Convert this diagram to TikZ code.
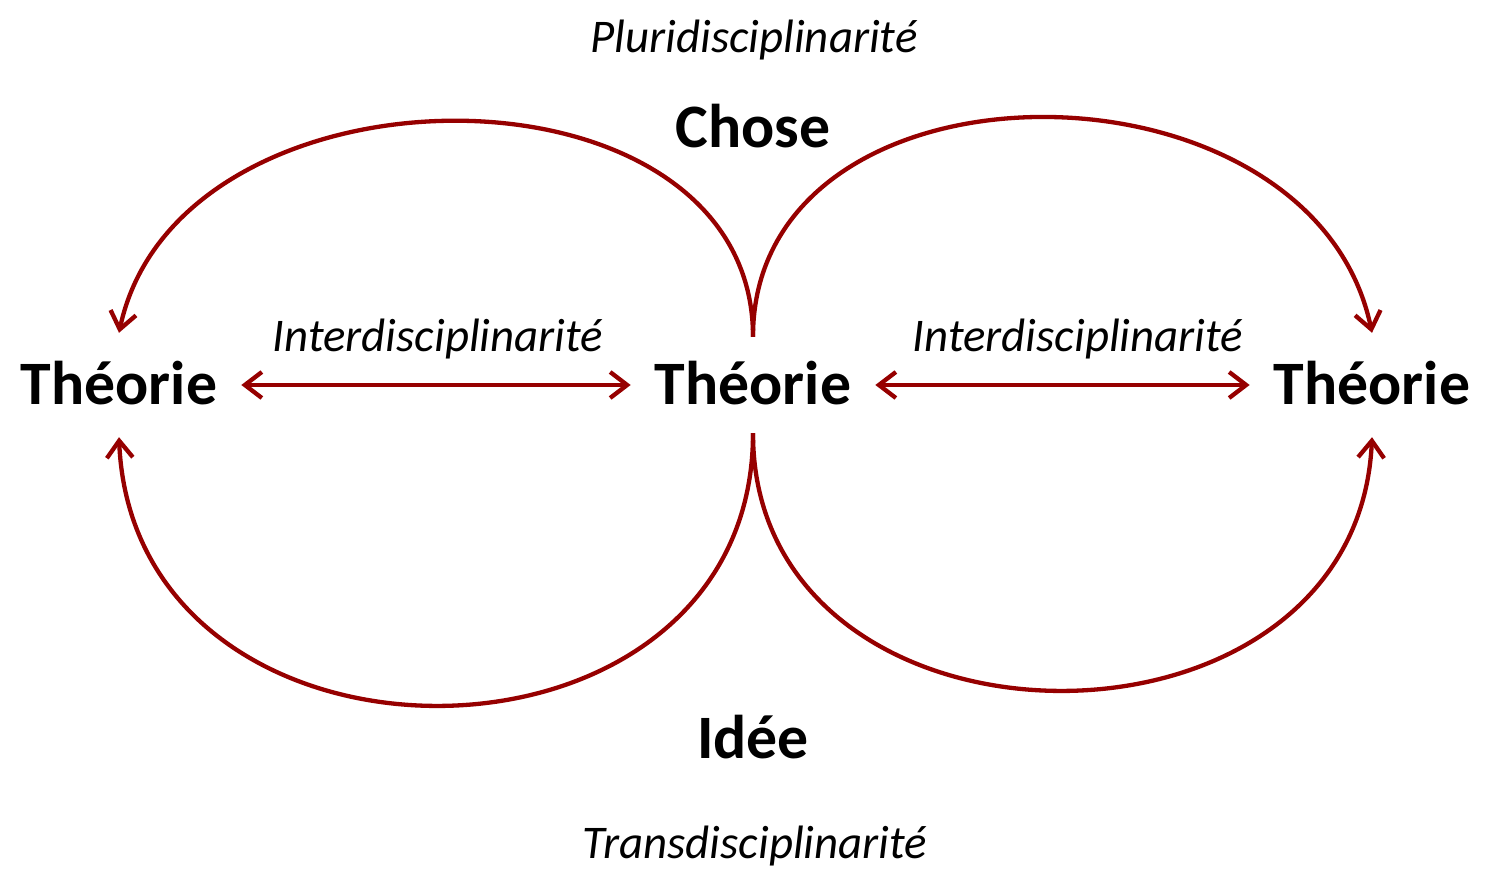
\documentclass[tikz,border=0pt]{standalone}
\usepackage{fontspec}
\setmainfont{Carlito}
\usepackage{tikz}
\usetikzlibrary{arrows.meta}

\definecolor{arcRed}{RGB}{150,0,0}

\begin{document}
\begin{tikzpicture}[
  x=1bp, y=1bp,
  thBox/.style={font=\fontsize{62}{62}\selectfont\bfseries, anchor=base,
                text height=46bp, text depth=6bp, inner xsep=24bp, inner ysep=26bp},
  wordBox/.style={font=\fontsize{62}{62}\selectfont\bfseries, anchor=base, inner sep=0pt},
  discBox/.style={font=\fontsize{47}{47}\selectfont\itshape, anchor=base, inner sep=0pt},
  arr/.style={{Straight Barb[length=17bp, width=26bp]}-{Straight Barb[length=17bp, width=26bp]},
              line width=4.3bp, draw=arcRed},
  loop/.style={-{Straight Barb[length=17bp, width=26bp]}, line width=4.3bp, draw=arcRed}
]
\useasboundingbox (0,0) rectangle (1489,873);

% the three theories
\node[thBox] (lft) at (119,468) {Théorie};
\node[thBox] (mid) at (753,468) {Théorie};
\node[thBox] (rgt) at (1372,468) {Théorie};

% words and disciplines
\node[discBox] (pluri) at (754,820) {Pluridisciplinarité};
\node[wordBox] (chose) at (753,725) {Chose};
\node[discBox] (interL) at (438,521) {Interdisciplinarité};
\node[discBox] (interR) at (1078,521) {Interdisciplinarité};
\node[wordBox] (idee) at (753,115) {Idée};
\node[discBox] (trans) at (755,15) {Transdisciplinarité};

\draw[arr] (lft) -- (mid);
\draw[arr] (mid) -- (rgt);

% loops through Chose and Idee
\draw[loop] ([yshift=-4bp]mid.north) .. controls +(0,287) and +(60,282) .. (lft.north);
\draw[loop] ([yshift=-4bp]mid.north) .. controls +(0,292) and +(-60,287) .. (rgt.north);
\draw[loop] ([yshift=4bp]mid.south) .. controls +(0,-360) and +(15,-360) .. (lft.south);
\draw[loop] ([yshift=4bp]mid.south) .. controls +(0,-340) and +(-15,-340) .. (rgt.south);
\end{tikzpicture}
\end{document}
